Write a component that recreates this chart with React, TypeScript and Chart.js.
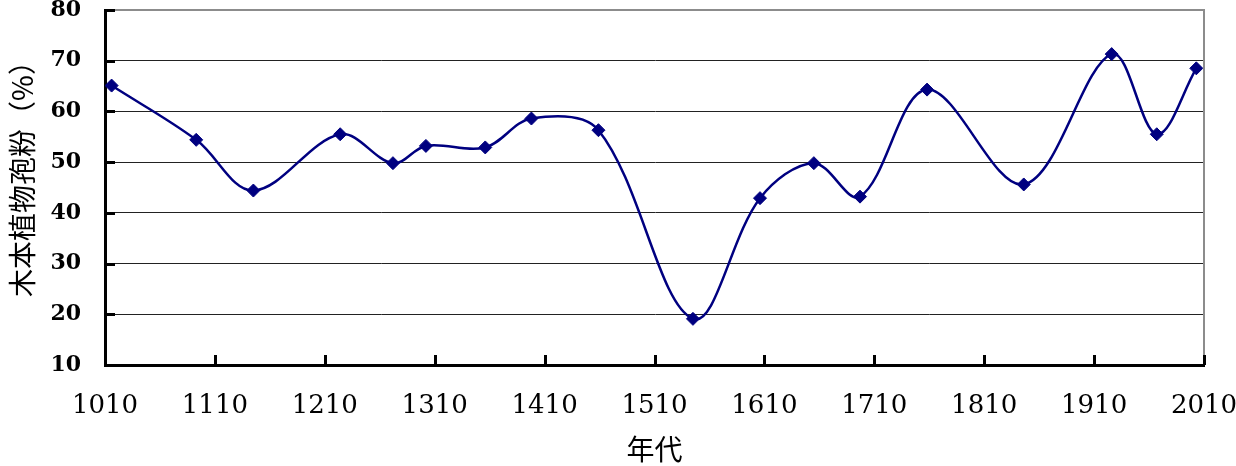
import React, { useEffect, useRef } from 'react';
import { Chart, registerables } from 'chart.js';

Chart.register(...registerables);

// Data
const years = [1016, 1093, 1145, 1224, 1272, 1302, 1356, 1398, 1459, 1545, 1606, 1655, 1697, 1758, 1846, 1926, 1967, 2003];
const pollenPercent = [65.1, 54.4, 44.4, 55.5, 49.8, 53.2, 52.9, 58.6, 56.3, 19.1, 42.9, 49.8, 43.2, 64.3, 45.6, 71.3, 55.5, 68.5];
const xTickValues = [1010, 1110, 1210, 1310, 1410, 1510, 1610, 1710, 1810, 1910, 2010];
const yTickValues = [10, 20, 30, 40, 50, 60, 70, 80];
const xTitle = '年代';
const yTitle = '木本植物孢粉（%）';

const frameAndTicks = {
  id: 'frameAndTicks',
  afterDraw(chart: any) {
    const { ctx, chartArea: a, scales } = chart;
    const x = scales.x;
    const y = scales.y;
    ctx.save();
    ctx.strokeStyle = '#8c8c8c';
    ctx.lineWidth = 2;
    ctx.beginPath();
    ctx.moveTo(a.left, a.top);
    ctx.lineTo(a.right, a.top);
    ctx.lineTo(a.right, a.bottom);
    ctx.stroke();
    ctx.strokeStyle = '#000';
    ctx.lineWidth = 3;
    ctx.beginPath();
    y.ticks.forEach((t: any) => {
      const py = Math.round(y.getPixelForValue(t.value)) + 0.5;
      ctx.moveTo(a.left, py);
      ctx.lineTo(a.left + 10, py);
    });
    x.ticks.forEach((t: any) => {
      const px = Math.round(x.getPixelForValue(t.value)) + 0.5;
      ctx.moveTo(px, a.bottom);
      ctx.lineTo(px, a.bottom - 10);
    });
    ctx.stroke();
    // y-axis title
    ctx.translate(22, 172);
    ctx.rotate(-Math.PI / 2);
    ctx.fillStyle = '#000';
    ctx.textAlign = 'center';
    ctx.textBaseline = 'middle';
    ctx.font = '28px "Noto Sans CJK SC", sans-serif';
    ctx.fillText(yTitle, 0, 0);
    ctx.restore();
  },
};

export default function App() {
  const canvasRef = useRef<HTMLCanvasElement | null>(null);

  useEffect(() => {
    document.body.style.margin = '0';
    const canvas = canvasRef.current;
    if (!canvas) return;
    const points = years.map((yr, i) => ({ x: yr, y: pollenPercent[i] }));
    const chart = new Chart(canvas, {
      type: 'line',
      data: {
        datasets: [
          {
            data: points,
            borderColor: '#000080',
            backgroundColor: '#000080',
            borderWidth: 2.5,
            tension: 0.35,
            pointStyle: 'rectRot',
            pointRadius: 6.5,
            pointBorderWidth: 1,
            pointBackgroundColor: '#000080',
            pointBorderColor: '#000080',
            fill: false,
          },
        ],
      },
      options: {
        responsive: false,
        animation: false,
        layout: { padding: { left: 0, right: 32, top: 10, bottom: 0 } },
        plugins: {
          legend: { display: false },
          tooltip: { enabled: false },
        },
        scales: {
          x: {
            type: 'linear',
            min: 1010,
            max: 2010,
            afterBuildTicks: (scale: any) => {
              scale.ticks = xTickValues.map((v) => ({ value: v }));
            },
            afterFit: (scale: any) => {
              scale.height = 101;
              scale.paddingLeft = 0;
              scale.paddingRight = 0;
            },
            grid: { display: false, drawTicks: false },
            border: { display: true, color: '#000', width: 3 },
            ticks: {
              color: '#000',
              padding: 28,
              maxRotation: 0,
              autoSkip: false,
              font: { family: '"DejaVu Serif", serif', size: 26, lineHeight: 1 },
              callback: (v: any) => String(v),
            },
            title: {
              display: true,
              text: xTitle,
              color: '#000',
              padding: { top: 0, bottom: 3 },
              font: { family: '"Noto Sans CJK SC", sans-serif', size: 28, lineHeight: 1 },
            },
          },
          y: {
            type: 'linear',
            min: 10,
            max: 80,
            afterBuildTicks: (scale: any) => {
              scale.ticks = yTickValues.map((v) => ({ value: v }));
            },
            afterFit: (scale: any) => {
              scale.width = 105;
              scale.paddingTop = 0;
              scale.paddingBottom = 0;
            },
            grid: {
              drawTicks: false,
              color: (c: any) => (c.tick && c.tick.value === 80 ? '#8c8c8c' : '#222'),
              lineWidth: 1,
            },
            border: { display: true, color: '#000', width: 3 },
            ticks: {
              color: '#000',
              padding: 24,
              font: { family: '"DejaVu Serif", serif', size: 22, weight: 'bold', lineHeight: 1 },
            },
            title: { display: false },
          },
        },
      },
      plugins: [frameAndTicks],
    } as any);
    return () => chart.destroy();
  }, []);

  return (
    <div style={{ width: 1236, height: 466, background: '#fff' }}>
      <canvas ref={canvasRef} width={1236} height={466} style={{ display: 'block' }} />
    </div>
  );
}
